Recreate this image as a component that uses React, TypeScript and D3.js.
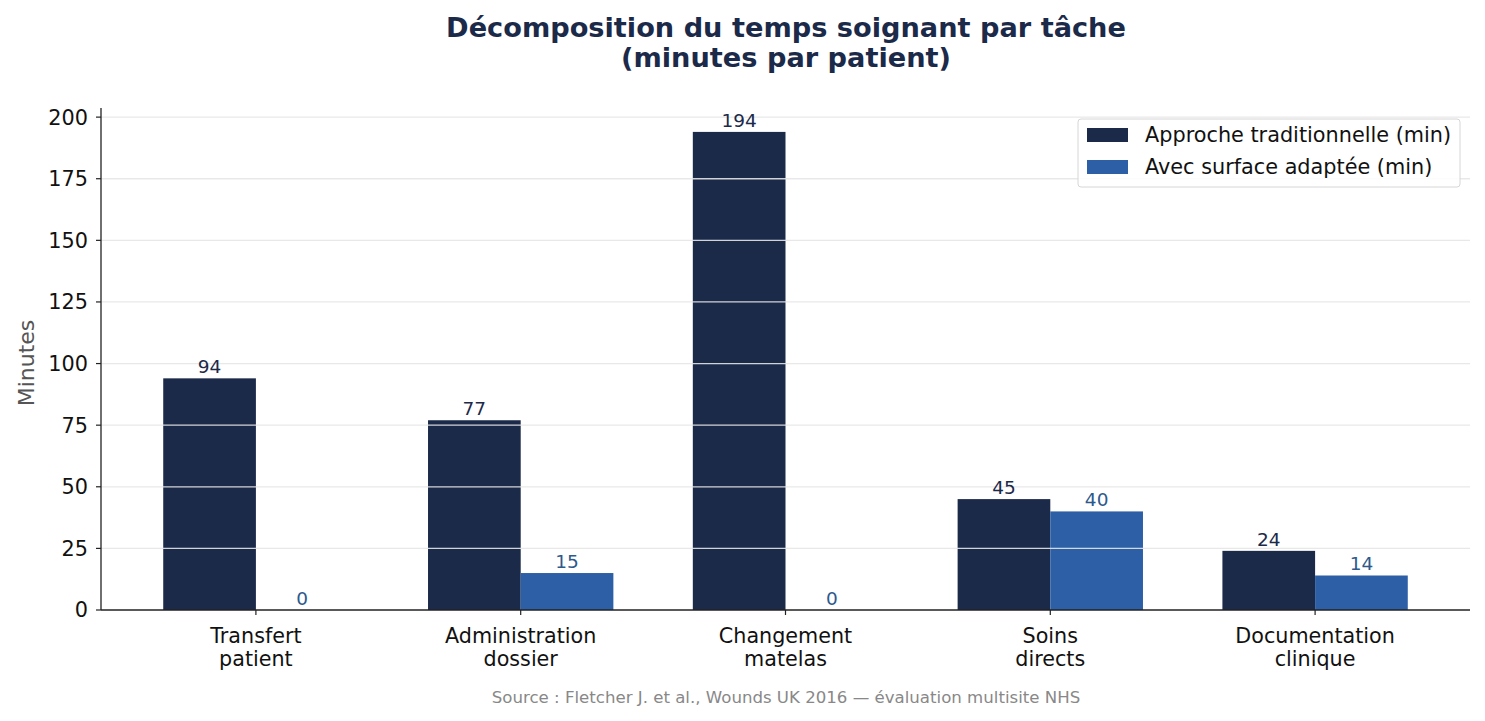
import React from 'react';
import * as d3 from 'd3';

const categories = [['Transfert', 'patient'], ['Administration', 'dossier'], ['Changement', 'matelas'], ['Soins', 'directs'], ['Documentation', 'clinique']];
const traditionnelle = [94, 77, 194, 45, 24];
const adaptee = [0, 15, 0, 40, 14];
const yTicks = [0, 25, 50, 75, 100, 125, 150, 175, 200];
const seriesNames = ['Approche traditionnelle (min)', 'Avec surface adaptée (min)'];

const NAVY = '#1c2a4a';
const BLUE = '#2d5fa6';
const FONT = 'DejaVu Sans, sans-serif';

const App: React.FC = () => {
  const width = 1485;
  const height = 721;
  const left = 101;
  const right = 1470;
  const top = 108;
  const bottom = 610;

  const x = d3.scaleLinear().domain([-0.585, categories.length - 1 + 0.585]).range([left, right]);
  const y = d3.scaleLinear().domain([0, 194 * 1.05]).range([bottom, top]);
  const barW = x(0.35) - x(0);

  return (
    <svg width={width} height={height} style={{ display: 'block', margin: '-8px' }} fontFamily={FONT}>
      <rect width={width} height={height} fill="#fff" />
      <text x={786} y={37} textAnchor="middle" fontSize={27.2} fontWeight="bold" fill={NAVY}>
        Décomposition du temps soignant par tâche
      </text>
      <text x={786} y={67} textAnchor="middle" fontSize={27.2} fontWeight="bold" fill={NAVY}>
        (minutes par patient)
      </text>

      {/* bars */}
      {categories.map((_, i) => (
        <g key={i}>
          <rect x={x(i) - barW} y={y(traditionnelle[i])} width={barW} height={y(0) - y(traditionnelle[i])} fill={NAVY} />
          <rect x={x(i)} y={y(adaptee[i])} width={barW} height={y(0) - y(adaptee[i])} fill={BLUE} />
        </g>
      ))}

      {/* grid on top */}
      {yTicks.slice(1).map((t) => (
        <line key={t} x1={left} x2={right} y1={y(t)} y2={y(t)} stroke="#e6e6e6" strokeOpacity={0.9} strokeWidth={1.3} />
      ))}

      {/* value labels */}
      {categories.map((_, i) => (
        <g key={i} fontSize={18.5}>
          <text x={x(i) - barW / 2} y={y(traditionnelle[i]) - 5} textAnchor="middle" fill={NAVY}>
            {traditionnelle[i]}
          </text>
          <text x={x(i) + barW / 2} y={y(adaptee[i]) - 5} textAnchor="middle" fill="#2d5a8c">
            {adaptee[i]}
          </text>
        </g>
      ))}

      {/* axes */}
      <line x1={left} x2={left} y1={top} y2={bottom} stroke="#222" strokeWidth={1.3} />
      <line x1={left} x2={right} y1={bottom} y2={bottom} stroke="#222" strokeWidth={1.3} />
      {yTicks.map((t) => (
        <g key={t}>
          <line x1={left - 5} x2={left} y1={y(t)} y2={y(t)} stroke="#222" strokeWidth={1.2} />
          <text x={left - 13} y={y(t)} dy="0.36em" textAnchor="end" fontSize={20.8} fill="#111">
            {t}
          </text>
        </g>
      ))}
      {categories.map((c, i) => (
        <g key={i}>
          <line x1={x(i)} x2={x(i)} y1={bottom} y2={bottom + 5} stroke="#222" strokeWidth={1.2} />
          {c.map((line, j) => (
            <text key={j} x={x(i)} y={643 + j * 23} textAnchor="middle" fontSize={20.7} fill="#111">
              {line}
            </text>
          ))}
        </g>
      ))}
      <text transform={`translate(34, 363) rotate(-90)`} textAnchor="middle" fontSize={22} fill="#555">
        Minutes
      </text>

      {/* legend */}
      <rect x={1078} y={119} width={382} height={68} rx={3} fill="#fff" fillOpacity={0.85} stroke="#d6d6d6" />
      {seriesNames.map((name, i) => (
        <g key={name}>
          <rect x={1087} y={128 + i * 32} width={41} height={14} fill={i === 0 ? NAVY : BLUE} />
          <text x={1145} y={135 + i * 32} dy="0.36em" fontSize={20.8} fill="#111">
            {name}
          </text>
        </g>
      ))}

      <text x={786} y={703} textAnchor="middle" fontSize={16.6} fill="#888">
        Source : Fletcher J. et al., Wounds UK 2016 — évaluation multisite NHS
      </text>
    </svg>
  );
};

export default App;
